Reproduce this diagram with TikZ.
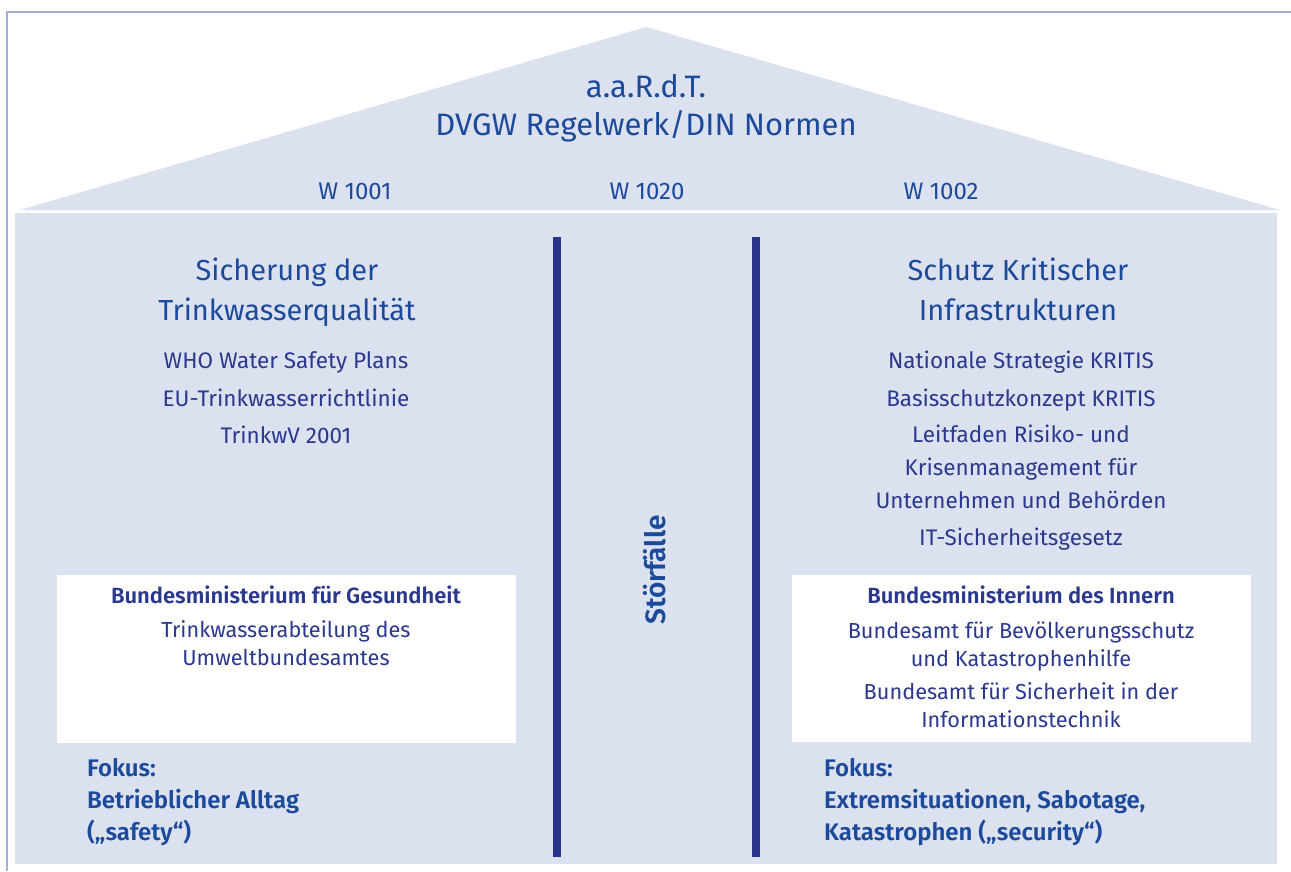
\documentclass[tikz,border=0pt]{standalone}
\usepackage{fontspec}
\setmainfont{Fira Sans}[BoldFont={Fira Sans SemiBold}]
\usetikzlibrary{positioning}
\definecolor{housefill}{RGB}{220,225,240}
\definecolor{framecol}{RGB}{168,172,216}
\definecolor{barblue}{RGB}{40,52,140}
\definecolor{headblue}{RGB}{28,74,155}
\definecolor{itemblue}{RGB}{42,56,142}
\tikzset{
  heading/.style  = {align=center, text=headblue, anchor=base,
                     font=\fontsize{29}{40}\selectfont},
  wlabel/.style   = {text=headblue, anchor=base,
                     font=\fontsize{24}{28}\selectfont},
  item/.style     = {align=center, text=itemblue, anchor=base,
                     font=\fontsize{22.5}{33}\selectfont},
  ministry/.style = {item, font=\fontsize{21.7}{28}\selectfont},
  boss/.style     = {item, font=\bfseries\fontsize{22}{28}\selectfont},
  focus/.style    = {align=left, text=headblue, anchor=base west,
                     font=\bfseries\fontsize{24}{32}\selectfont},
  pillar/.style   = {draw=barblue, line width=8pt}
}
\begin{document}
\begin{tikzpicture}
  [
    x                 = 1pt,
    y                 = -1pt,
    every node/.style = {inner sep=0pt}
  ]
  \fill[white] (0,0) rectangle (1291,871);
  \useasboundingbox (0,0) rectangle (1291,871);
  \draw[framecol, line width=2pt] (7,871) -- (7,12) -- (1291,12);

  % house
  \fill[housefill] (20,210) -- (646,27) -- (1280,210) -- cycle;
  \fill[housefill] (15,213) rectangle (1277,864);
  \fill[white] (57,575) rectangle (516,743);
  \fill[white] (792,575) rectangle (1251,742);
  \draw[pillar] (556.5,237) -- (556.5,857);
  \draw[pillar] (756,237) -- (756,857);

  % roof
  \node [heading, font=\fontsize{31}{38}\selectfont] (norms) at (646,135)
        {a.a.R.d.T.\\DVGW Regelwerk/DIN Normen};
  \node [wlabel] (w1001) at (355,199) {W 1001};
  \node [wlabel] (w1020) at (647,199) {W 1020};
  \node [wlabel] (w1002) at (941,199) {W 1002};

  % left wing
  \node [heading] (quality) at (287,320) {Sicherung der\\Trinkwasserqualität};
  \node [item] (who) at (286,368) {WHO Water Safety Plans};
  \node [item] (eu) at ([yshift=-38pt]who.base) {EU-Trinkwasserrichtlinie};
  \node [item] (trinkwv) at ([yshift=-37pt]eu.base) {TrinkwV 2001};
  \node [boss] (bmg) at (286,603) {Bundesministerium für Gesundheit};
  \node [ministry] (uba) at ([yshift=-62pt]bmg.base)
        {Trinkwasserabteilung des\\Umweltbundesamtes};
  \node [focus] (focusl) at (87,840)
        {Fokus:\\Betrieblicher Alltag\\(„safety“)};

  % middle
  \node [text=headblue, font=\bfseries\fontsize{28}{30}\selectfont,
         rotate=90] (stoer) at (655,570) {Störfälle};

  % right wing
  \node [heading] (kritis) at (1018,320) {Schutz Kritischer\\Infrastrukturen};
  \node [item] (nationale) at (1021,368) {Nationale Strategie KRITIS};
  \node [item] (basis) at ([yshift=-38pt]nationale.base) {Basisschutzkonzept KRITIS};
  \node [item, font=\fontsize{22.5}{33}\selectfont] (leitfaden) at (1021,508)
        {Leitfaden Risiko- und\\Krisenmanagement für\\Unternehmen und Behörden};
  \node [item] (itsig) at ([yshift=-37pt]leitfaden.base) {IT-Sicherheitsgesetz};
  \node [boss] (bmi) at (1021,603) {Bundesministerium des Innern};
  \node [ministry] (bbk) at ([yshift=-63pt]bmi.base)
        {Bundesamt für Bevölkerungsschutz\\und Katastrophenhilfe};
  \node [ministry] (bsi) at ([yshift=-61pt]bbk.base)
        {Bundesamt für Sicherheit in der\\Informationstechnik};
  \node [focus] (focusr) at (824,840)
        {Fokus:\\Extremsituationen, Sabotage,\\Katastrophen („security“)};
\end{tikzpicture}
\end{document}
